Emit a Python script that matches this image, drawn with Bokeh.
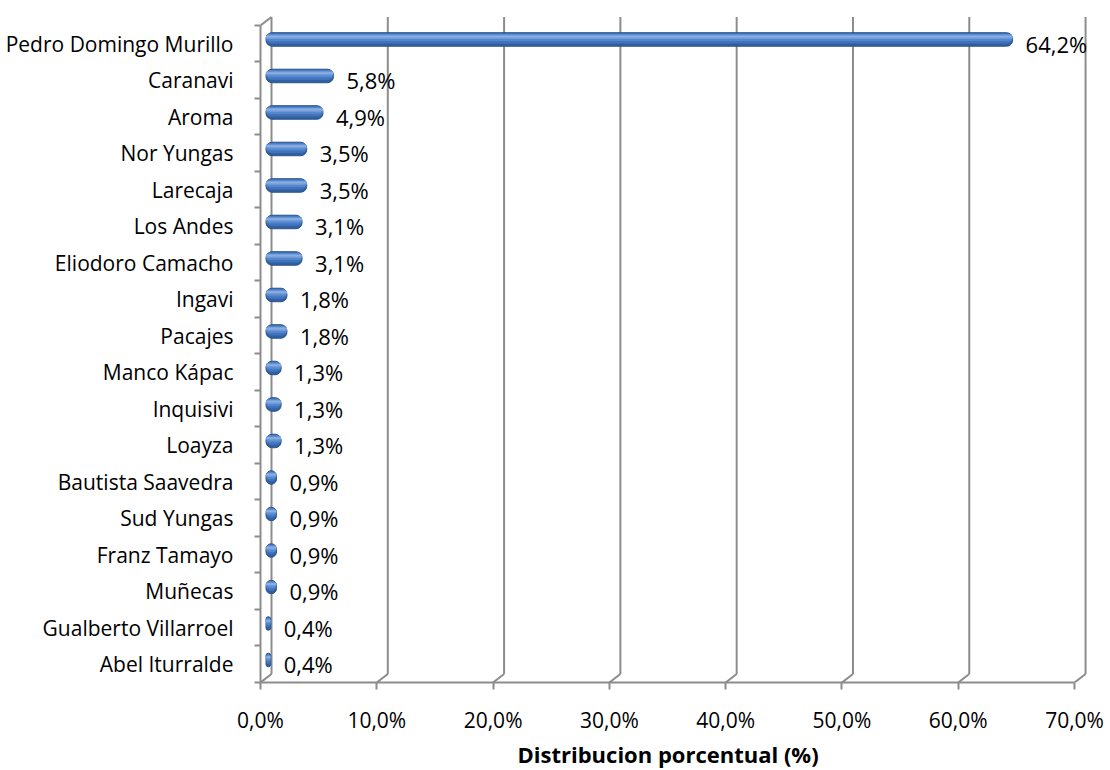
from bokeh.plotting import figure
from bokeh.models import Range1d, FixedTicker, ColumnDataSource, Title
from bokeh.core.properties import value
from bokeh.embed import file_html
from bokeh.resources import INLINE

# Province shares of the department total (%)
provinces = [
    "Pedro Domingo Murillo", "Caranavi", "Aroma", "Nor Yungas", "Larecaja",
    "Los Andes", "Eliodoro Camacho", "Ingavi", "Pacajes", "Manco Kápac",
    "Inquisivi", "Loayza", "Bautista Saavedra", "Sud Yungas", "Franz Tamayo",
    "Muñecas", "Gualberto Villarroel", "Abel Iturralde",
]
shares = [64.2, 5.8, 4.9, 3.5, 3.5, 3.1, 3.1, 1.8, 1.8, 1.3, 1.3, 1.3,
          0.9, 0.9, 0.9, 0.9, 0.4, 0.4]
x_ticks = [0, 10, 20, 30, 40, 50, 60, 70]
x_tick_labels = ["0,0%", "10,0%", "20,0%", "30,0%", "40,0%", "50,0%", "60,0%", "70,0%"]
axis_title = "Distribucion porcentual (%)"

FONT = "Open Sans"
GRAY = "#8c8c8c"

n = len(provinces)
ypos = [n - 1 - i for i in range(n)]          # first province on top
labels = [f"{v:.1f}".replace(".", ",") + "%" for v in shares]

# depth of the 3-D box, in data units (right / up)
DX = 0.946
DY = 0.233

p = figure(
    width=1110, height=770,
    x_range=Range1d(0, 72.23), y_range=Range1d(-0.5, 17.91),
    output_backend="svg", toolbar_location=None,
    min_border_left=260, min_border_right=10,
    min_border_top=10, min_border_bottom=88,
)
p.xgrid.visible = False
p.ygrid.visible = False
p.outline_line_color = None
p.background_fill_color = "white"
p.border_fill_color = "white"

# back wall gridlines and floor edges
y_lo, y_hi = -0.5, n - 0.5
p.segment(x0=[t + DX for t in x_ticks], y0=[y_lo + DY] * len(x_ticks),
          x1=[t + DX for t in x_ticks], y1=[y_hi + DY] * len(x_ticks),
          line_color=GRAY, line_width=2)
p.segment(x0=x_ticks, y0=[y_lo] * len(x_ticks),
          x1=[t + DX for t in x_ticks], y1=[y_lo + DY] * len(x_ticks),
          line_color=GRAY, line_width=2)
p.segment(x0=[0], y0=[y_hi], x1=[DX], y1=[y_hi + DY],
          line_color=GRAY, line_width=2)

# cylinders: shaded bands stacked from dark to light
H = 0.37
yc = [y + DY / 2 for y in ypos]
left = [DX / 2] * n
right = [v + DX / 2 for v in shares]
src = ColumnDataSource(dict(
    y=yc, left=left, right=right,
    lx=right, ly=ypos, label=labels,
))
p.hbar(y="y", left="left", right="right", height=H, source=src,
       fill_color="#30609f", line_color="#2a5289", line_width=1,
       border_radius=6)
bands = [(0.04, 0.80, "#4073bb", 5), (0.10, 0.62, "#5587cc", 4),
         (0.16, 0.46, "#6e9bd8", 3), (0.22, 0.36, "#8aaee2", 2)]
for a, b, col, rad in bands:
    p.hbar(y=[c + H / 2 - (a + b) / 2 * H for c in yc], left=left,
           right=right, height=(b - a) * H,
           fill_color=col, line_color=None, border_radius=rad)

# value labels
p.text(x="lx", y="ly", text="label", source=src, x_offset=13,
       text_baseline="middle", text_align="left",
       text_font=value(FONT), text_font_size="22px", text_color="black")

# x axis
xa = p.xaxis[0]
xa.ticker = FixedTicker(ticks=x_ticks)
xa.major_label_overrides = dict(zip(x_ticks, x_tick_labels))
xa.bounds = (0, 70)
xa.axis_line_color = GRAY
xa.axis_line_width = 2
xa.major_tick_line_color = GRAY
xa.major_tick_line_width = 2
xa.major_tick_in = 0
xa.major_tick_out = 7
xa.minor_tick_line_color = None
xa.major_label_standoff = 16
xa.major_label_text_font = FONT
xa.major_label_text_font_size = "21px"
xa.major_label_text_color = "black"

# axis title below the tick labels, under the 0-70 span
p.add_layout(Title(
    text=axis_title, align="left", offset=257, standoff=0,
    text_font=FONT, text_font_size="22px", text_font_style="bold",
    text_color="black",
), "below")

# y axis: names centred between boundary ticks
ya = p.yaxis[0]
ya.ticker = FixedTicker(ticks=ypos, minor_ticks=[k - 0.5 for k in range(n + 1)])
ya.major_label_overrides = dict(zip(ypos, provinces))
ya.bounds = (y_lo, y_hi)
ya.axis_line_color = GRAY
ya.axis_line_width = 2
ya.major_tick_line_color = None
ya.major_tick_in = 0
ya.major_tick_out = 0
ya.minor_tick_line_color = GRAY
ya.minor_tick_line_width = 2
ya.minor_tick_in = 0
ya.minor_tick_out = 6
ya.major_label_standoff = 21
ya.major_label_text_font = FONT
ya.major_label_text_font_size = "21px"
ya.major_label_text_color = "black"

open("out.html", "w").write(file_html(p, INLINE))
